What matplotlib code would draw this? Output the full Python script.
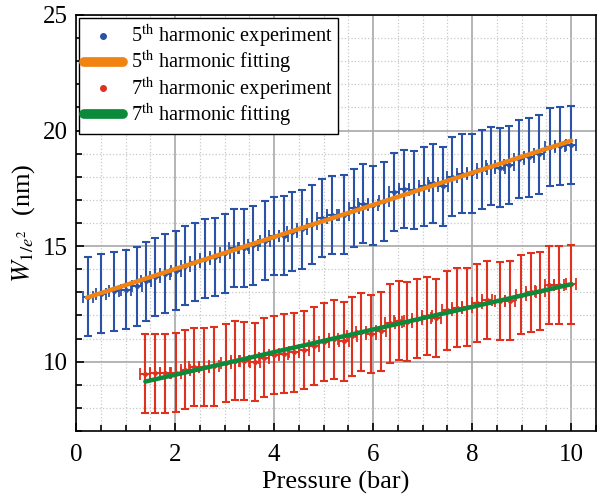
import matplotlib
matplotlib.use("Agg")
import matplotlib.pyplot as plt
from matplotlib.lines import Line2D
from matplotlib.ticker import MultipleLocator

# 5th harmonic: positions where the error bars are drawn, and the measured width there
p5 = [0.25, 0.51, 0.76, 1.00, 1.23, 1.42, 1.60, 1.80, 2.01, 2.21,
      2.41, 2.61, 2.80, 3.00, 3.18, 3.39, 3.58, 3.81, 3.99, 4.19,
      4.36, 4.57, 4.77, 4.97, 5.17, 5.41, 5.61, 5.80, 6.00, 6.21,
      6.42, 6.62, 6.82, 7.02, 7.21, 7.41, 7.60, 7.80, 8.00, 8.20,
      8.37, 8.56, 8.74, 8.94, 9.14, 9.34, 9.58, 9.78, 10.0]
w5 = [12.81, 12.94, 13.04, 13.11, 13.26, 13.47, 13.67, 13.81, 13.94, 14.15,
      14.32, 14.46, 14.53, 14.69, 14.92, 14.92, 15.03, 15.23, 15.43, 15.45,
      15.63, 15.72, 15.94, 16.22, 16.35, 16.36, 16.65, 16.84, 16.76, 16.94,
      17.34, 17.47, 17.43, 17.59, 17.71, 17.59, 18.00, 18.13, 18.15, 18.32,
      18.47, 18.40, 18.51, 18.76, 18.84, 18.97, 19.29, 19.33, 19.37]
err5 = 1.7

# 7th harmonic
p7 = [1.40, 1.60, 1.80, 2.01, 2.21, 2.39, 2.58, 2.78, 3.02, 3.22,
      3.40, 3.62, 3.79, 3.99, 4.19, 4.40, 4.60, 4.80, 5.00, 5.20,
      5.41, 5.58, 5.76, 5.95, 6.15, 6.34, 6.52, 6.69, 6.89, 7.08,
      7.26, 7.49, 7.70, 7.90, 8.10, 8.30, 8.56, 8.77, 8.98, 9.18,
      9.36, 9.56, 9.76, 10.0]
w7 = [9.48, 9.49, 9.50, 9.52, 9.65, 9.77, 9.77, 9.80, 9.94, 10.05,
      10.03, 9.99, 10.17, 10.28, 10.35, 10.40, 10.51, 10.67, 10.85, 10.96,
      10.88, 11.10, 11.28, 11.20, 11.31, 11.66, 11.77, 11.73, 11.86, 11.97,
      11.89, 12.22, 12.34, 12.36, 12.54, 12.67, 12.62, 12.64, 12.90, 13.00,
      13.06, 13.31, 13.31, 13.35]
err7 = 1.7

# linear fits (end points)
fit5_p = [0.22, 10.0]
fit5_w = [12.77, 19.56]
fit7_p = [1.40, 10.0]
fit7_w = [9.14, 13.35]

BLUE = "#2a52a8"
ORANGE = "#f08312"
RED = "#e2301f"
GREEN = "#0b8a3b"


def draw_series(ax, p, w, err, color):
    # big error bars
    ax.errorbar(p, w, yerr=err, fmt="none", ecolor=color, elinewidth=1.5,
                capsize=3.2, capthick=1.5, zorder=3)
    # measurement: dots with a short horizontal spread
    ax.errorbar(p, w, xerr=0.1, fmt=".", color=color, ms=5,
                elinewidth=1.5, capsize=4.0, capthick=1.3, zorder=4)


def main():
    plt.rcParams["font.family"] = ["Liberation Serif", "DejaVu Serif"]
    plt.rcParams["mathtext.fontset"] = "stix"

    fig = plt.figure(figsize=(6.01, 4.98), dpi=100)
    ax = fig.add_axes([0.1265, 0.1345, 0.8652, 0.8355])

    draw_series(ax, p5, w5, err5, BLUE)
    draw_series(ax, p7, w7, err7, RED)
    ax.plot(fit5_p, fit5_w, color=ORANGE, lw=3.2, solid_capstyle="round", zorder=5)
    ax.plot(fit7_p, fit7_w, color=GREEN, lw=3.2, solid_capstyle="round", zorder=5)

    ax.set_xlim(0, 10.5)
    ax.set_ylim(7, 25)
    ax.xaxis.set_major_locator(MultipleLocator(2))
    ax.xaxis.set_minor_locator(MultipleLocator(0.5))
    ax.yaxis.set_minor_locator(MultipleLocator(1))
    ax.set_yticks([10, 15, 20, 25])
    ax.tick_params(which="both", direction="in", labelsize=18, width=1.2)
    ax.tick_params(which="major", length=6)
    ax.tick_params(which="minor", length=4)
    ax.tick_params(axis="x", pad=9)
    ax.tick_params(axis="y", pad=6)
    ax.grid(which="major", color="#a8a8a8", lw=1.2, ls="-", zorder=0)
    ax.grid(which="minor", color="#c8c8c8", lw=0.9, ls=":", zorder=0)
    ax.set_axisbelow(True)
    for s in ax.spines.values():
        s.set_linewidth(1.2)

    ax.set_xlabel("Pressure (bar)", fontsize=19, labelpad=4)
    ax.set_ylabel(r"$W_{1/e^2}$  (nm)", fontsize=19, labelpad=4)

    handles = [
        Line2D([], [], ls="none", marker="o", ms=4, color=BLUE),
        Line2D([], [], color=ORANGE, lw=7, solid_capstyle="round"),
        Line2D([], [], ls="none", marker="o", ms=4, color=RED),
        Line2D([], [], color=GREEN, lw=7, solid_capstyle="round"),
    ]
    labels = [r"5$^{\rm th}$ harmonic experiment",
              r"5$^{\rm th}$ harmonic fitting",
              r"7$^{\rm th}$ harmonic experiment",
              r"7$^{\rm th}$ harmonic fitting"]
    leg = ax.legend(handles, labels, loc="upper left", fontsize=14.6,
                    borderaxespad=0.15, fancybox=False, framealpha=1,
                    edgecolor="black", handlelength=1.9, handletextpad=0.4,
                    labelspacing=-0.05, borderpad=0.25)
    leg.get_frame().set_linewidth(1.0)

    fig.savefig("out.png", dpi=100)
    plt.close(fig)


if __name__ == "__main__":
    main()
